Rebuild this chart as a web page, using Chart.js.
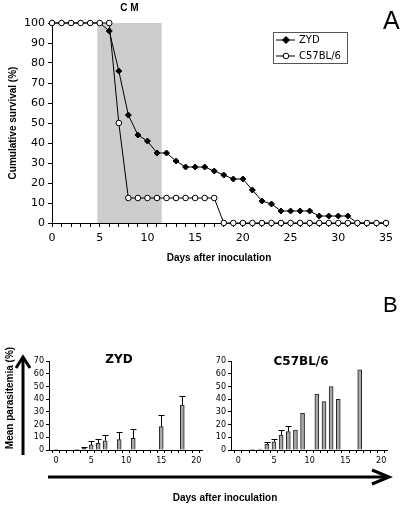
<!DOCTYPE html>
<html>
<head>
<meta charset="utf-8">
<script src="https://cdn.jsdelivr.net/npm/chart.js@4.4.1/dist/chart.umd.min.js"></script>
<style>
  body { margin: 0; background: #fff; }
  #page { position: relative; width: 400px; height: 505px; overflow: hidden; font-family: "DejaVu Sans", sans-serif; }
  .abs { position: absolute; }
  .lbl { position: absolute; white-space: nowrap; color: #000; }
</style>
</head>
<body>
<div id="page">
  <div class="abs" style="left:0;top:0;width:400px;height:275px"><canvas id="survival"></canvas></div>
  <div class="abs" style="left:0;top:340px;width:210px;height:135px"><canvas id="para-zyd"></canvas></div>
  <div class="abs" style="left:200px;top:340px;width:200px;height:135px"><canvas id="para-c57"></canvas></div>

  <div class="lbl" style="left:383px;top:6px;font:25px 'Liberation Sans',sans-serif">A</div>
  <div class="lbl" style="left:383px;top:292px;font:22px 'Liberation Sans',sans-serif">B</div>
  <div class="lbl" style="left:119px;top:359px;transform:translate(-50%,-50%);font:bold 12px 'DejaVu Sans',sans-serif">ZYD</div>
  <div class="lbl" style="left:301px;top:361px;transform:translate(-50%,-50%);font:bold 12px 'DejaVu Sans',sans-serif">C57BL/6</div>
  <div class="lbl" style="left:9px;top:398px;transform:translate(-50%,-50%) rotate(-90deg);font:bold 10px 'Liberation Sans',sans-serif">Mean parasitemia (%)</div>
  <div class="lbl" style="left:225px;top:497px;transform:translate(-50%,-50%);font:bold 10px 'Liberation Sans',sans-serif">Days after inoculation</div>

  <svg class="abs" style="left:0;top:0" width="400" height="505">
    <g stroke="#000" stroke-width="3" fill="none">
      <line x1="23" y1="455" x2="23" y2="358"/>
      <polyline points="16,368 23,357 30,368"/>
      <line x1="48" y1="477" x2="387" y2="477"/>
      <polyline points="372,470 389,477 372,484"/>
    </g>
  </svg>
</div>

<script>
Chart.defaults.font.family = "'DejaVu Sans', sans-serif";
Chart.defaults.color = '#000';
Chart.defaults.animation = false;

// survival (panel A)
const days = [0,1,2,3,4,5,6,7,8,9,10,11,12,13,14,15,16,17,18,19,20,21,22,23,24,25,26,27,28,29,30,31,32,33,34,35];
const zydSurvival = [100,100,100,100,100,100,96,76,54,44,41,35,35,31,28,28,28,26,24,22,22,16.5,11,9.5,6,6,6,6,3.5,3.5,3.5,3.5,0,0,0,0];
const c57Survival = [100,100,100,100,100,100,100,50,12.5,12.5,12.5,12.5,12.5,12.5,12.5,12.5,12.5,12.5,0,0,0,0,0,0,0,0,0,0,0,0,0,0,0,0,0,0];
const cmStart = 4.75;
const cmEnd = 11.5;

// parasitemia (panel B)
const tickDaysB = [0,1,2,3,4,5,6,7,8,9,10,11,12,13,14,15,16,17,18,19,20];
const zydDays = [0,3,4,5,6,7,9,11,15,18];
const zydMean = [0.3,0.5,1.3,4,5.2,7.3,8.1,9.2,18.4,35.4];
const zydSd = [null,null,0.7,3,3.5,4.5,6.1,7.1,9.4,7.1];
const c57Days = [2,3,4,5,6,7,8,9,11,12,13,14,17];
const c57Mean = [0.5,0.8,4.7,6.5,11.8,14.4,15.7,28.9,43.9,38,49.8,39.9,63];
const c57Sd = [null,null,1.4,1.9,3.9,4.7,null,null,null,null,null,null,null];

function toPoints(xs, ys) {
    return xs.map((x, i) => ({ x: x, y: ys[i] }));
}

// grey band for the CM period + its label
const cmBand = {
    id: 'cmBand',
    beforeDatasetsDraw(chart) {
        const c = chart.ctx, xs = chart.scales.x, a = chart.chartArea;
        const x1 = xs.getPixelForValue(cmStart), x2 = xs.getPixelForValue(cmEnd);
        c.save();
        c.fillStyle = '#cdcdcd';
        c.fillRect(x1, a.top, x2 - x1, a.bottom - a.top);
        c.fillStyle = '#000';
        c.font = "bold 10px 'Liberation Sans', sans-serif";
        c.textAlign = 'center';
        c.textBaseline = 'middle';
        c.fillText('C M', (x1 + x2) / 2, 8);
        c.restore();
    }
};

// boxed legend inside the plot
const boxLegend = {
    id: 'boxLegend',
    afterDraw(chart) {
        const c = chart.ctx;
        c.save();
        c.strokeStyle = '#555';
        c.lineWidth = 1;
        c.strokeRect(273.5, 32.5, 74, 31);
        c.font = "10px 'DejaVu Sans', sans-serif";
        c.textBaseline = 'middle';
        chart.data.datasets.forEach((ds, i) => {
            const y = 40 + i * 16;
            c.strokeStyle = '#000';
            c.beginPath();
            c.moveTo(276, y);
            c.lineTo(295, y);
            c.stroke();
            c.fillStyle = ds.pointBackgroundColor;
            c.beginPath();
            if (ds.pointStyle === 'circle') {
                c.arc(286, y, ds.pointRadius, 0, Math.PI * 2);
            } else {
                const r = ds.pointRadius + 0.5;
                c.moveTo(286, y - r); c.lineTo(286 + r, y); c.lineTo(286, y + r); c.lineTo(286 - r, y); c.closePath();
            }
            c.fill();
            c.stroke();
            c.fillStyle = '#000';
            c.fillText(ds.label, 299, y);
        });
        c.restore();
    }
};

new Chart(document.getElementById('survival'), {
    type: 'line',
    data: {
        datasets: [{
            label: 'ZYD',
            data: toPoints(days, zydSurvival),
            borderColor: '#000',
            borderWidth: 1,
            pointStyle: 'rectRot',
            pointRadius: 3,
            pointBackgroundColor: '#000',
            pointBorderColor: '#000',
            pointBorderWidth: 1,
            clip: false,
            order: 2
        }, {
            label: 'C57BL/6',
            data: toPoints(days, c57Survival),
            borderColor: '#000',
            borderWidth: 1,
            pointStyle: 'circle',
            pointRadius: 2.8,
            pointBackgroundColor: '#fff',
            pointBorderColor: '#000',
            pointBorderWidth: 1,
            clip: false,
            order: 1
        }]
    },
    options: {
        responsive: true,
        maintainAspectRatio: false,
        layout: { padding: { top: 23, right: 14, left: 0, bottom: 0 } },
        plugins: { legend: { display: false }, tooltip: { enabled: false } },
        scales: {
            x: {
                type: 'linear', min: 0, max: 35,
                afterFit: (s) => { s.height = 52; },
                border: { color: '#000', width: 1 },
                grid: { drawOnChartArea: false, color: '#000', tickLength: 4 },
                ticks: {
                    stepSize: 1, autoSkip: false, maxRotation: 0, padding: 5,
                    font: { size: 11 },
                    callback: (v) => (v % 5 === 0 ? v : '')
                },
                title: { display: true, text: 'Days after inoculation', padding: { top: 11, bottom: 11 },
                    font: { family: "'Liberation Sans', sans-serif", size: 10, weight: 'bold' } }
            },
            y: {
                min: 0, max: 100,
                afterFit: (s) => { s.width = 52; },
                border: { color: '#000', width: 1 },
                grid: { drawOnChartArea: false, color: '#000', tickLength: 4 },
                ticks: { stepSize: 10, padding: 3, font: { size: 11 } },
                title: { display: true, text: 'Cumulative survival (%)', padding: { top: 7, bottom: 7 },
                    font: { family: "'Liberation Sans', sans-serif", size: 10, weight: 'bold' } }
            }
        }
    },
    plugins: [cmBand, boxLegend]
});

// error bars drawn from the bar tops
const errorBars = {
    id: 'errorBars',
    afterDatasetsDraw(chart) {
        const c = chart.ctx, ys = chart.scales.y;
        const ds = chart.data.datasets[0];
        const meta = chart.getDatasetMeta(0);
        c.save();
        c.strokeStyle = '#000';
        c.lineWidth = 1;
        ds.errors.forEach((e, i) => {
            if (e == null) return;
            const bar = meta.data[i];
            const top = Math.round(ys.getPixelForValue(ds.data[i].y + e)) + 0.5;
            const x = Math.round(bar.x) + 0.5;
            c.beginPath();
            c.moveTo(x, bar.y);
            c.lineTo(x, top);
            c.moveTo(x - 3, top);
            c.lineTo(x + 3, top);
            c.stroke();
        });
        c.restore();
    }
};

function parasitemiaChart(id, xs, ys, sd, yWidth, padRight) {
    return new Chart(document.getElementById(id), {
        type: 'bar',
        data: {
            datasets: [{
                data: toPoints(xs, ys),
                errors: sd,
                backgroundColor: '#a8a8a8',
                borderColor: '#222',
                borderWidth: 1,
                barThickness: 4
            }]
        },
        options: {
            responsive: true,
            maintainAspectRatio: false,
            layout: { padding: { top: 21, right: padRight, left: 0, bottom: 0 } },
            plugins: { legend: { display: false }, tooltip: { enabled: false } },
            scales: {
                x: {
                    type: 'linear', min: -0.5, max: 20.3,
                    afterFit: (s) => { s.height = 25; },
                    afterBuildTicks: (s) => { s.ticks = tickDaysB.map((v) => ({ value: v })); },
                    border: { color: '#000', width: 1 },
                    grid: { drawOnChartArea: false, color: '#000', tickLength: 3 },
                    ticks: {
                        autoSkip: false, maxRotation: 0, padding: 3,
                        font: { size: 8 },
                        callback: (v) => (v % 5 === 0 ? v : '')
                    }
                },
                y: {
                    min: 0, max: 70,
                    afterFit: (s) => { s.width = yWidth; },
                    border: { color: '#000', width: 1 },
                    grid: { drawOnChartArea: false, color: '#000', tickLength: 3 },
                    ticks: { stepSize: 10, padding: 2, font: { size: 8 } }
                }
            }
        },
        plugins: [errorBars]
    });
}

parasitemiaChart('para-zyd', zydDays, zydMean, zydSd, 49, 8);
parasitemiaChart('para-c57', c57Days, c57Mean, c57Sd, 31, 13);
</script>
</body>
</html>
